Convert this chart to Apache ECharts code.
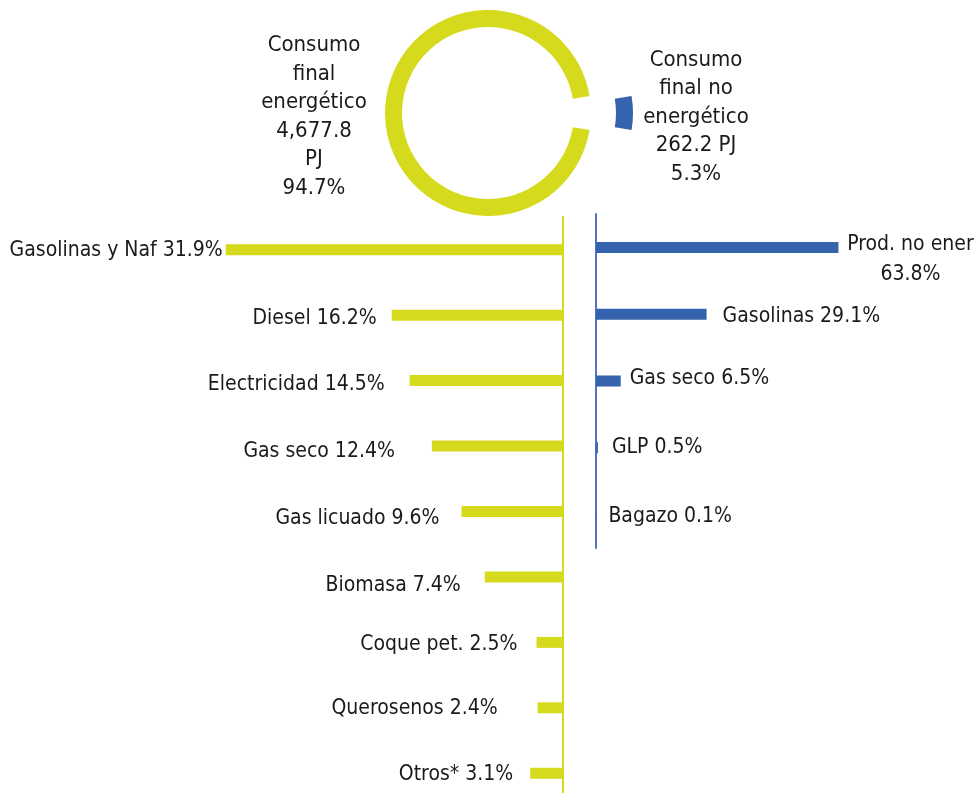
<!DOCTYPE html>
<html>
<head>
<meta charset="utf-8">
<script src="https://cdn.jsdelivr.net/npm/echarts@6/dist/echarts.min.js"></script>
<style>
  html, body { margin: 0; padding: 0; background: #fff; }
  #chart { width: 976px; height: 793px; }
</style>
</head>
<body>
<div id="chart"></div>
<script>
// consumo final: energetico vs no energetico
const pieNames = ['Consumo final no energético', 'Consumo final energético']
const pieShares = [5.3, 94.7]
const pieLabels = [
  'Consumo\nfinal no\nenergético\n262.2 PJ\n5.3%',
  'Consumo\nfinal\nenergético\n4,677.8\nPJ\n94.7%'
]

// consumo final energetico por combustible (%)
const leftNames = ['Gasolinas y Naf', 'Diesel', 'Electricidad', 'Gas seco', 'Gas licuado', 'Biomasa', 'Coque pet.', 'Querosenos', 'Otros*']
const leftValues = [31.9, 16.2, 14.5, 12.4, 9.6, 7.4, 2.5, 2.4, 3.1]

// consumo final no energetico por producto (%)
const rightNames = ['Prod. no ener', 'Gasolinas', 'Gas seco', 'GLP', 'Bagazo']
const rightValues = [63.8, 29.1, 6.5, 0.5, 0.1]

const yellow = '#d5da1c'
const blue = '#3563ad'
const font = '"DejaVu Sans Condensed", "Liberation Sans Narrow", sans-serif'

// label placement tweaks (gap from bar end, vertical shift)
const leftGap = [3, 15, 25, 37, 22, 24, 19, 40, 17]
const leftShift = [1, 3, 4, 5, 7, 9, 2, 1, 1]
const rightGap = [72, 16, 9, 14, 12]
const rightShift = [12, 2, -2, 0, 2]
// where the two donut captions sit
const pieLabelPos = [[696, 117], [314, 117]]

const chart = echarts.init(document.getElementById('chart'))

const textStyle = { color: '#1a1a1a', fontFamily: font, fontSize: 21 }

chart.setOption({
  animation: false,
  graphic: pieLabels.map((text, i) => ({
    type: 'text',
    x: pieLabelPos[i][0],
    y: pieLabelPos[i][1],
    silent: true,
    style: {
      text,
      fill: '#1a1a1a',
      font: `22px ${font}`,
      lineHeight: 28.5,
      align: 'center',
      verticalAlign: 'middle'
    }
  })),
  grid: [
    { left: 140, right: 413, top: 217, height: 589, outerBoundsMode: 'none' },
    { left: 596, right: 0, top: 214, height: 334, outerBoundsMode: 'none' }
  ],
  xAxis: [
    { gridIndex: 0, type: 'value', min: 0, max: 40, inverse: true, show: false },
    { gridIndex: 1, type: 'value', min: 0, max: 100, show: false }
  ],
  yAxis: [
    {
      gridIndex: 0,
      type: 'category',
      data: leftNames,
      inverse: true,
      position: 'right',
      axisLine: { onZero: false, lineStyle: { color: yellow, width: 2 } },
      axisTick: { show: false },
      axisLabel: { show: false },
      splitLine: { show: false }
    },
    {
      gridIndex: 1,
      type: 'category',
      data: rightNames,
      inverse: true,
      position: 'left',
      axisLine: { onZero: false, lineStyle: { color: '#4f75c4', width: 2 } },
      axisTick: { show: false },
      axisLabel: { show: false },
      splitLine: { show: false }
    }
  ],
  series: [
    {
      type: 'pie',
      center: [488, 113],
      radius: [86, 103],
      startAngle: pieShares[0] / 100 * 180,
      clockwise: true,
      selectedMode: 'single',
      selectedOffset: 42,
      emphasis: { disabled: true },
      label: { show: false },
      labelLine: { show: false },
      data: pieNames.map((name, i) => ({
        name,
        value: pieShares[i],
        selected: i === 0,
        itemStyle: { color: i === 0 ? blue : yellow }
      }))
    },
    {
      type: 'bar',
      xAxisIndex: 0,
      yAxisIndex: 0,
      barWidth: 11,
      itemStyle: { color: yellow },
      emphasis: { disabled: true },
      data: leftValues.map((v, i) => ({
        value: v,
        label: { distance: leftGap[i], offset: [0, leftShift[i]] }
      })),
      label: {
        show: true,
        position: 'left',
        ...textStyle,
        formatter: (p) => `${p.name} ${p.value.toFixed(1)}%`
      }
    },
    {
      type: 'bar',
      xAxisIndex: 1,
      yAxisIndex: 1,
      barWidth: 11,
      itemStyle: { color: blue },
      emphasis: { disabled: true },
      data: rightValues.map((v, i) => ({
        value: v,
        label: i === 0
          ? { distance: rightGap[i], offset: [0, rightShift[i]], align: 'center', lineHeight: 30 }
          : { distance: rightGap[i], offset: [0, rightShift[i]] }
      })),
      label: {
        show: true,
        position: 'right',
        ...textStyle,
        formatter: (p) => p.dataIndex === 0
          ? `${p.name}\n${p.value.toFixed(1)}%`
          : `${p.name} ${p.value.toFixed(1)}%`
      }
    }
  ]
})
</script>
</body>
</html>
